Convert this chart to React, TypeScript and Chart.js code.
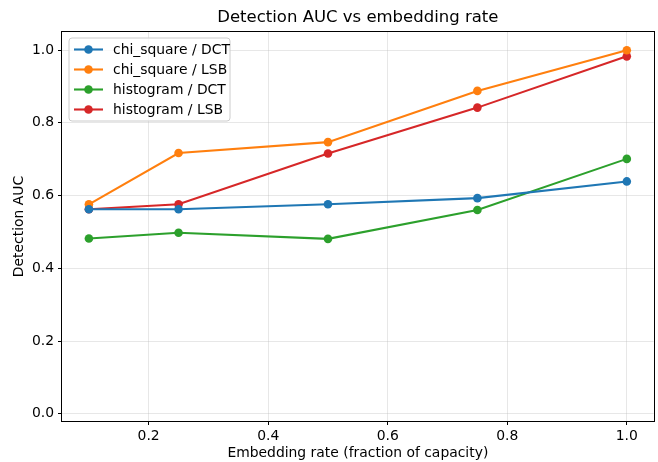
import React, { useEffect, useRef } from "react";
import { Chart, registerables } from "chart.js";

Chart.register(...registerables);

const rates = [0.1, 0.25, 0.5, 0.75, 1.0];
const chiDCT = [0.5625, 0.5625, 0.576, 0.593, 0.639];
const chiLSB = [0.576, 0.717, 0.747, 0.888, 1.0];
const histDCT = [0.482, 0.498, 0.481, 0.5605, 0.701];
const histLSB = [0.5625, 0.576, 0.716, 0.842, 0.983];
const seriesNames = ["chi_square / DCT", "chi_square / LSB", "histogram / DCT", "histogram / LSB"];
const seriesColors = ["#1f77b4", "#ff7f0e", "#2ca02c", "#d62728"];
const xTicks = [0.2, 0.4, 0.6, 0.8, 1.0];
const yTicks = [0.0, 0.2, 0.4, 0.6, 0.8, 1.0];
const titleText = "Detection AUC vs embedding rate";
const xLabel = "Embedding rate (fraction of capacity)";
const yLabel = "Detection AUC";

const FONT = "'DejaVu Sans', sans-serif";

const decorPlugin = {
  id: "decor",
  afterDraw(chart: any) {
    const ctx = chart.ctx;
    const a = chart.chartArea;
    ctx.save();
    // frame
    ctx.strokeStyle = "#000";
    ctx.lineWidth = 1;
    ctx.strokeRect(Math.round(a.left) - 0.5, Math.round(a.top) - 0.5, Math.round(a.right - a.left) + 1, Math.round(a.bottom - a.top) + 1);
    // title
    ctx.fillStyle = "#000";
    ctx.textAlign = "center";
    ctx.textBaseline = "middle";
    ctx.font = `16.5px ${FONT}`;
    ctx.fillText(titleText, (a.left + a.right) / 2, 18);
    // x label
    ctx.font = `13.9px ${FONT}`;
    ctx.fillText(xLabel, (a.left + a.right) / 2, 453);
    // y label
    ctx.translate(19, (a.top + a.bottom) / 2);
    ctx.rotate(-Math.PI / 2);
    ctx.fillText(yLabel, 0, 0);
    ctx.restore();

    // legend
    ctx.save();
    const bx = 69, by = 38, bw = 161, bh = 83;
    ctx.fillStyle = "rgba(255,255,255,0.8)";
    ctx.strokeStyle = "#cccccc";
    ctx.lineWidth = 1;
    const r = 3;
    ctx.beginPath();
    ctx.moveTo(bx + r, by);
    ctx.arcTo(bx + bw, by, bx + bw, by + bh, r);
    ctx.arcTo(bx + bw, by + bh, bx, by + bh, r);
    ctx.arcTo(bx, by + bh, bx, by, r);
    ctx.arcTo(bx, by, bx + bw, by, r);
    ctx.closePath();
    ctx.fill();
    ctx.stroke();
    ctx.font = `13.9px ${FONT}`;
    ctx.textAlign = "left";
    ctx.textBaseline = "middle";
    for (let i = 0; i < seriesNames.length; i++) {
      const y = 49.5 + i * 20;
      ctx.strokeStyle = seriesColors[i];
      ctx.lineWidth = 2.1;
      ctx.beginPath();
      ctx.moveTo(74, y);
      ctx.lineTo(103, y);
      ctx.stroke();
      ctx.fillStyle = seriesColors[i];
      ctx.beginPath();
      ctx.arc(88.5, y, 4.3, 0, Math.PI * 2);
      ctx.fill();
      ctx.fillStyle = "#000";
      ctx.fillText(seriesNames[i], 113, y + 1);
    }
    ctx.restore();
  },
};

export default function App() {
  const ref = useRef<HTMLCanvasElement>(null);
  useEffect(() => {
    document.body.style.margin = "0";
    const allSeries = [chiDCT, chiLSB, histDCT, histLSB];
    const chart = new Chart(ref.current!, {
      type: "line",
      data: {
        datasets: allSeries.map((vals, i) => ({
          label: seriesNames[i],
          data: rates.map((x, j) => ({ x, y: vals[j] })),
          borderColor: seriesColors[i],
          backgroundColor: seriesColors[i],
          borderWidth: 2.1,
          pointRadius: 4.3,
          pointHoverRadius: 4.3,
          pointBorderWidth: 0,
          tension: 0,
          clip: false as any,
        })),
      },
      options: {
        responsive: false,
        animation: false,
        events: [],
        layout: { padding: { left: 0, right: 1, top: 32, bottom: 0 } },
        plugins: {
          legend: { display: false },
          title: { display: false },
          tooltip: { enabled: false },
        },
        scales: {
          x: {
            type: "linear",
            min: 0.055,
            max: 1.045,
            afterFit: (s: any) => { s.height = 41; },
            afterBuildTicks: (s: any) => { s.ticks = xTicks.map((v) => ({ value: v })); },
            ticks: {
              color: "#000",
              font: { family: FONT, size: 13.9 },
              padding: 3,
              maxRotation: 0,
              callback: (v: any) => Number(v).toFixed(1),
            },
            grid: { color: "rgba(176,176,176,0.3)", lineWidth: 1, tickColor: "#000", tickLength: 4, drawTicks: true },
            border: { display: false },
          },
          y: {
            type: "linear",
            min: -0.02,
            max: 1.05,
            afterFit: (s: any) => { s.width = 62; },
            afterBuildTicks: (s: any) => { s.ticks = yTicks.map((v) => ({ value: v })); },
            ticks: {
              color: "#000",
              font: { family: FONT, size: 13.9 },
              padding: 4,
              callback: (v: any) => Number(v).toFixed(1),
            },
            grid: { color: "rgba(176,176,176,0.3)", lineWidth: 1, tickColor: "#000", tickLength: 4, drawTicks: true },
            border: { display: false },
          },
        },
      },
      plugins: [decorPlugin],
    });
    return () => chart.destroy();
  }, []);
  return (
    <div style={{ width: 658, height: 462, background: "#fff" }}>
      <canvas ref={ref} width={658} height={462} />
    </div>
  );
}
